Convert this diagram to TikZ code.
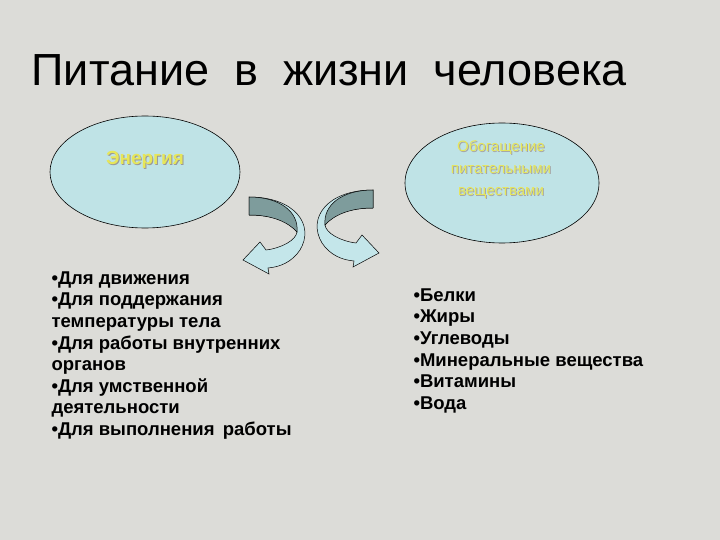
\documentclass[tikz,border=0pt]{standalone}
\usepackage{fontspec}
\setmainfont{Liberation Sans}
\usetikzlibrary{shapes.geometric}
\definecolor{bg}{HTML}{DCDCD8}
\definecolor{ell}{HTML}{BFE3E6}
\definecolor{arrl}{HTML}{C4E6EA}
\definecolor{arrd}{HTML}{7E9C9C}
\definecolor{ylw}{HTML}{E6E65A}
\begin{document}
\begin{tikzpicture}[x=1pt,y=-1pt,
  ellip/.style={ellipse,draw=black,fill=ell,line width=0.6pt,inner sep=0pt},
  eltext/.style={text=ylw,align=center},
  lst/.style={anchor=north west,align=left,font=\bfseries\fontsize{18.5}{21.6}\selectfont},
  pics/curlarrow/.style={code={
    \filldraw[fill=arrl,draw=black,line width=0.5pt] (249,197) .. controls (295,197) and (315,225) .. (300,250) .. controls (292,262) and (280,267) .. (268,268) -- (269,274) -- (243,260) -- (260,242) -- (266,250) .. controls (282,248) and (296,240) .. (297,232) .. controls (290,222) and (275,215) .. (249,215) -- cycle;
    \filldraw[fill=arrd,draw=black,line width=0.5pt] (249,197) .. controls (280,197) and (299,212) .. (297,232) .. controls (288,222) and (272,215) .. (249,215) -- cycle;
  }}]
\useasboundingbox[fill=bg] (0,0) rectangle (720,540);
\node[anchor=west,font=\fontsize{45}{48}\selectfont] (title) at (28,70) {Питание\; в\; жизни\; человека};
\node[ellip,minimum width=190pt,minimum height=112pt] (e1) at (145,172) {};
\node[ellip,minimum width=194pt,minimum height=120pt] (e2) at (502,183) {};
\node[eltext,font=\bfseries\fontsize{19}{22}\selectfont,text=black!40] (t1s) at (146,161) {Энергия};
\node[eltext,font=\bfseries\fontsize{19}{22}\selectfont] (t1) at (145,160) {Энергия};
\node[eltext,font=\fontsize{15}{22}\selectfont,text=black!35] (t2s) at (502,170) {Обогащение\\питательными\\веществами};
\node[eltext,font=\fontsize{15}{22}\selectfont] (t2) at (501,169) {Обогащение\\питательными\\веществами};
\pic (a1) at (0,0) {curlarrow};
\pic[xscale=-1] (a2) at (622,-7) {curlarrow};
\node[lst] (l1) at (48,268) {•Для движения\\•Для поддержания\\температуры тела\\•Для работы внутренних\\органов\\•Для умственной\\деятельности\\•Для выполнения\, работы};
\node[lst] (l2) at (410,285) {•Белки\\•Жиры\\•Углеводы\\•Минеральные вещества\\•Витамины\\•Вода};
\end{tikzpicture}
\end{document}
